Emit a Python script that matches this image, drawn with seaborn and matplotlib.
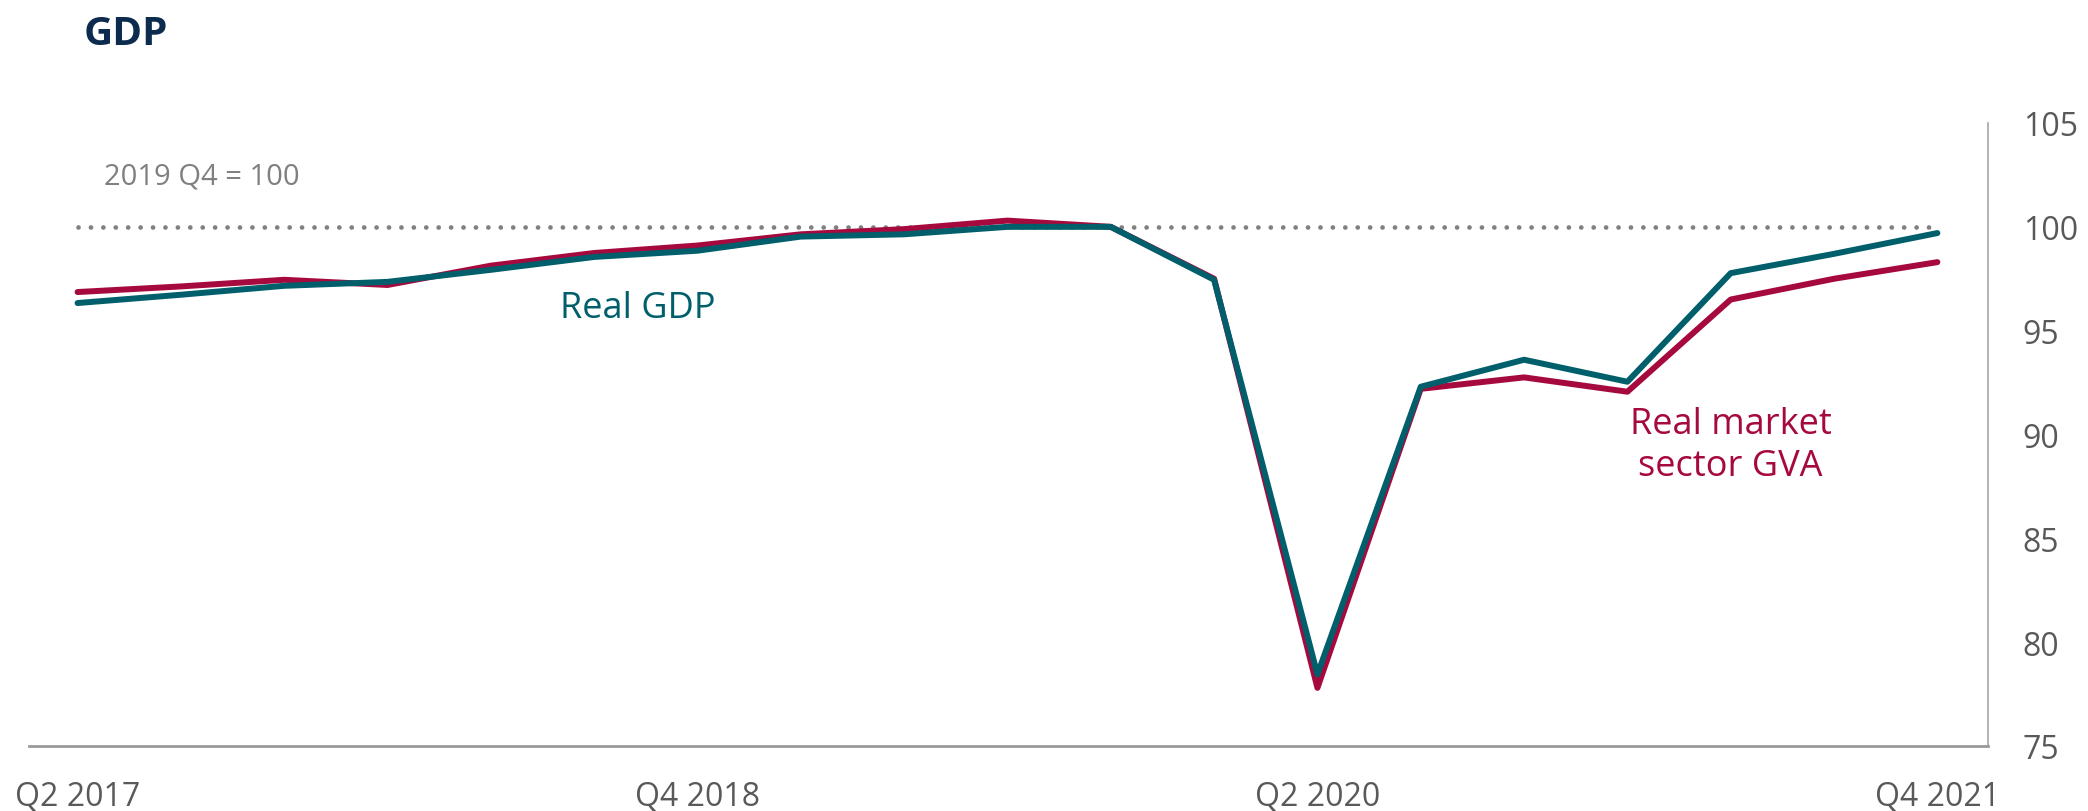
import matplotlib
matplotlib.use("Agg")
import matplotlib.pyplot as plt
import seaborn as sns
import pandas as pd

# ---- data ----
quarters = ["Q2 2017", "Q3 2017", "Q4 2017", "Q1 2018", "Q2 2018", "Q3 2018", "Q4 2018",
            "Q1 2019", "Q2 2019", "Q3 2019", "Q4 2019", "Q1 2020", "Q2 2020", "Q3 2020",
            "Q4 2020", "Q1 2021", "Q2 2021", "Q3 2021", "Q4 2021"]
real_gdp = [96.33, 96.73, 97.16, 97.35, 97.93, 98.55, 98.85, 99.53, 99.64, 100.0, 100.0,
            97.45, 78.45, 92.3, 93.6, 92.54, 97.77, 98.7, 99.7]
real_gva = [96.86, 97.13, 97.45, 97.2, 98.13, 98.74, 99.1, 99.64, 99.89, 100.3, 100.0,
            97.5, 77.8, 92.2, 92.75, 92.06, 96.5, 97.5, 98.3]
base_value = 100
xtick_labels = ["Q2 2017", "Q4 2018", "Q2 2020", "Q4 2021"]
yticks = [75, 80, 85, 90, 95, 100, 105]

TEAL = "#005F6B"
RED = "#A6093D"
GRAY = "#808080"
TICK = "#595959"

n = len(quarters)
df = pd.DataFrame({
    "idx": list(range(n)) * 2,
    "value": real_gva + real_gdp,
    "series": ["Real market sector GVA"] * n + ["Real GDP"] * n,
})
base_df = pd.DataFrame({"idx": list(range(n)), "value": [base_value] * n})

sns.set_theme(style="white")
plt.rcParams["font.family"] = ["Open Sans", "DejaVu Sans"]

fig = plt.figure(figsize=(20.88, 8.12), dpi=100)
ax = fig.add_axes([29 / 2088, 1 - 747 / 812, (1988 - 29) / 2088, (747 - 124) / 812])

# reference dotted line (2019 Q4 = 100)
sns.lineplot(data=base_df, x="idx", y="value", color=GRAY, linewidth=3.4,
             ax=ax, zorder=1)
base_line = ax.lines[-1]
base_line.set_dashes((0.01, 2.62))
base_line.set_dash_capstyle("round")

sns.lineplot(data=df, x="idx", y="value", hue="series",
             hue_order=["Real market sector GVA", "Real GDP"],
             palette={"Real market sector GVA": RED, "Real GDP": TEAL},
             linewidth=4.3, legend=False, ax=ax, zorder=3)
for ln in ax.lines[1:]:
    ln.set_solid_joinstyle("round")
    ln.set_solid_capstyle("round")

ax.set_xlim(-0.47, 18.49)
ax.set_ylim(75, 105)
ax.set_xticks([quarters.index(q) for q in xtick_labels])
ax.set_xticklabels(xtick_labels)
ax.set_yticks(yticks)
ax.yaxis.tick_right()
ax.tick_params(axis="y", length=0, pad=25, labelsize=23, labelcolor=TICK)
ax.tick_params(axis="x", length=0, pad=24, labelsize=23, labelcolor=TICK)
ax.set_xlabel("")
ax.set_ylabel("")

for s in ["top", "left"]:
    ax.spines[s].set_visible(False)
ax.spines["bottom"].set_color("#9A9A9A")
ax.spines["bottom"].set_linewidth(2.0)
ax.spines["right"].set_color("#A6A6A6")
ax.spines["right"].set_linewidth(1.2)

# annotations
ax.text(4.67, 96.1, "Real GDP", color=TEAL, fontsize=26, ha="left", va="center")
ax.text(16.0, 89.5, "Real market\nsector GVA", color=RED, fontsize=26, ha="center",
        va="center", linespacing=1.25)
ax.text(0.26, 102.47, "2019 Q4 = 100", color=GRAY, fontsize=21, ha="left", va="center")

fig.text(84 / 2088, 1 - 45 / 812, "GDP", color="#0C2B4E", fontsize=29, fontweight="bold",
         ha="left", va="baseline")

fig.savefig("out.png", dpi=100)
